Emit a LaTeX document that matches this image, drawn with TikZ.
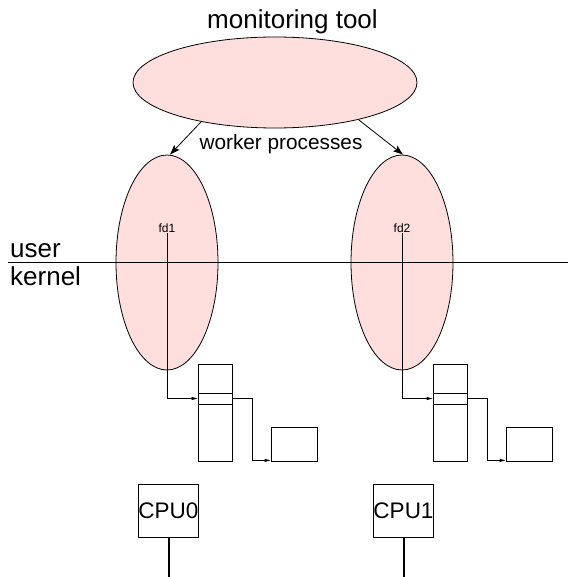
\documentclass[tikz,border=0pt]{standalone}
\usepackage{fontspec}
\setmainfont{Liberation Sans}
\usetikzlibrary{shapes.geometric,arrows.meta}
\definecolor{procpink}{RGB}{255,222,222}
\tikzset{
  proc/.style={ellipse,draw=black,fill=procpink,line width=0.8pt,inner sep=0pt},
  tabbox/.style={rectangle,draw=black,line width=0.8pt,inner sep=0pt},
  thin/.style={line width=0.8pt},
  bigarrow/.style={line width=0.8pt,-{Stealth[length=10pt,width=7pt,inset=2pt]}},
  smallarrow/.style={line width=0.8pt,-{Triangle[length=6pt,width=3pt]}},
  bigtext/.style={font=\fontsize{26}{30}\selectfont,inner sep=0pt},
  midtext/.style={font=\fontsize{20.8}{24}\selectfont,inner sep=0pt},
  cputext/.style={font=\fontsize{22.5}{26}\selectfont,inner sep=0pt},
  smalltext/.style={font=\fontsize{12}{14}\selectfont,inner sep=0pt},
}
\begin{document}
\begin{tikzpicture}[x=1pt,y=-1pt]
\useasboundingbox (0,0) rectangle (568,577);
% top monitoring tool
\node[bigtext,anchor=base] (title) at (292.5,29) {monitoring tool};
\node[proc,minimum width=284pt,minimum height=91pt] (top) at (275,82.5) {};
\node[midtext,anchor=base] (worker) at (281,150) {worker processes};
% worker processes
\node[proc,minimum width=102pt,minimum height=215pt] (w1) at (167,262.5) {};
\node[proc,minimum width=102pt,minimum height=215pt] (w2) at (402,262.5) {};
\draw[bigarrow] (top.208) -- ([xshift=3pt]w1.north);
\draw[bigarrow] (top.336) -- ([xshift=1pt]w2.north);
% user/kernel line
\coordinate (ul) at (8,262);
\coordinate (ur) at (568,262);
\draw[thin] (ul) -- (ur);
\node[bigtext,anchor=base west] (user) at (10,257) {user};
\node[bigtext,anchor=base west] (kernel) at (10,285) {kernel};
% fd labels
\node[smalltext,anchor=base] (fd1) at (167,232) {fd1};
\node[smalltext,anchor=base] (fd2) at (402,232) {fd2};
% tables
\node[tabbox,minimum width=34pt,minimum height=97pt] (t1) at (215,412.5) {};
\node[tabbox,minimum width=34pt,minimum height=11pt] (r1) at (215,398.5) {};
\node[tabbox,minimum width=46pt,minimum height=34pt] (s1) at (294,444) {};
\node[tabbox,minimum width=34pt,minimum height=97pt] (t2) at (450,412.5) {};
\node[tabbox,minimum width=34pt,minimum height=11pt] (r2) at (450,398.5) {};
\node[tabbox,minimum width=46pt,minimum height=34pt] (s2) at (529,444) {};
\draw[smallarrow] ([yshift=-1pt]fd1.south) |- (r1.west);
\draw[smallarrow] ([yshift=-1pt]fd2.south) |- (r2.west);
\draw[smallarrow] (r1.east) -- ++(20,0) |- ([yshift=1pt]s1.south west);
\draw[smallarrow] (r2.east) -- ++(20,0) |- ([yshift=1pt]s2.south west);
% CPUs
\node[tabbox,minimum width=59pt,minimum height=53pt,cputext] (c0) at (168.5,510.5) {CPU0};
\node[tabbox,minimum width=59pt,minimum height=53pt,cputext] (c1) at (403.5,510.5) {CPU1};
\coordinate (b0) at (168.5,577);
\coordinate (b1) at (403.5,577);
\draw[line width=2pt] (c0.south) -- (b0);
\draw[line width=2pt] (c1.south) -- (b1);
\end{tikzpicture}
\end{document}
